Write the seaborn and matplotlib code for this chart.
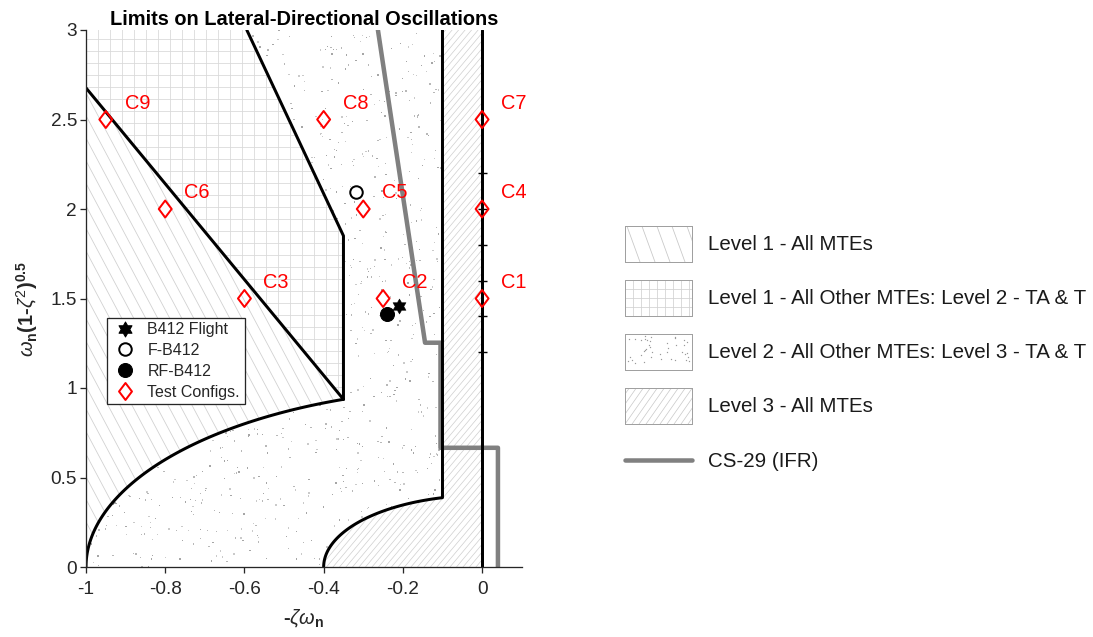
import numpy as np
import matplotlib
matplotlib.use("Agg")
import matplotlib.pyplot as plt
import seaborn as sns
from matplotlib.patches import Polygon, Rectangle
from matplotlib.collections import LineCollection
from matplotlib.lines import Line2D
from matplotlib.path import Path
from matplotlib.legend_handler import HandlerBase

# ---------------------------------------------------------------- data
config_names = ["C1", "C2", "C3", "C4", "C5", "C6", "C7", "C8", "C9"]
config_sigma = [0.0, -0.25, -0.6, 0.0, -0.3, -0.8, 0.0, -0.4, -0.95]
config_omega = [1.5, 1.5, 1.5, 2.0, 2.0, 2.0, 2.5, 2.5, 2.5]

flight_sigma, flight_omega = [-0.211], [1.457]
f_model_sigma, f_model_omega = [-0.318], [2.095]
rf_model_sigma, rf_model_omega = [-0.239], [1.416]

# handling-qualities boundaries
zeta_level1 = 0.35          # constant damping-ratio limit
wn_level1 = 1.0             # natural-frequency limit (Level 1)
wn_level3 = 0.4             # natural-frequency limit (Level 3)
sigma_level3 = -0.1         # real-part limit
upper_edge_sigma = [-0.35, -0.594]
upper_edge_omega = [1.85, 3.0]

cs29_sigma = [-0.263, -0.144, -0.105, -0.105, 0.040, 0.040]
cs29_omega = [3.0, 1.253, 1.253, 0.666, 0.666, 0.0]

axis_marks_omega = [1.2, 1.4, 1.6, 1.8, 2.0, 2.2]

x_ticks = [-1, -0.8, -0.6, -0.4, -0.2, 0]
x_tick_labels = ["-1", "-0.8", "-0.6", "-0.4", "-0.2", "0"]
y_ticks = [0, 0.5, 1, 1.5, 2, 2.5, 3]
y_tick_labels = ["0", "0.5", "1", "1.5", "2", "2.5", "3"]

region_labels = ["Level 1 - All MTEs",
                 "Level 1 - All Other MTEs: Level 2 - TA & T",
                 "Level 2 - All Other MTEs: Level 3 - TA & T",
                 "Level 3 - All MTEs"]

# ---------------------------------------------------------------- style
sns.set_theme(style="ticks")
plt.rcParams["font.family"] = ["Liberation Sans", "DejaVu Sans"]
plt.rcParams["axes.unicode_minus"] = False
plt.rcParams["mathtext.fontset"] = "custom"
plt.rcParams["mathtext.rm"] = "Liberation Sans"
plt.rcParams["mathtext.it"] = "Liberation Sans:italic"
plt.rcParams["mathtext.bf"] = "Liberation Sans:bold"

DPI = 72
FW, FH = 1093, 637
fig = plt.figure(figsize=(FW / DPI, FH / DPI), dpi=DPI)
ax_l, ax_b, ax_w, ax_h = 86, 70, 435.7, 537
ax = fig.add_axes([ax_l / FW, ax_b / FH, ax_w / FW, ax_h / FH])
XMIN, XMAX, YMIN, YMAX = -1.0, 0.1, 0.0, 3.0

L1_HATCH = [(-62, 12, "#d0d0d0", 0.8)]
GRID_HATCH = [(0, 12, "#d9d9d9", 0.8), (90, 12, "#d9d9d9", 0.8)]
L3_HATCH = [(50, 6.5, "#cfcfcf", 0.7)]
CS29_GREY = "#808080"


def line_family(width, height, angle_deg, step):
    """Parallel lines covering a width x height box, `step` apart along x."""
    a = np.deg2rad(angle_deg)
    d = np.array([np.cos(a), np.sin(a)])
    n = np.array([-np.sin(a), np.cos(a)])
    perp = step * abs(np.sin(a)) if abs(np.sin(a)) > 1e-6 else step
    corners = np.array([[0, 0], [width, 0], [0, height], [width, height]])
    proj = corners @ n
    offsets = np.arange(np.floor(proj.min() / perp) * perp, proj.max() + perp, perp)
    L = width + height
    return [[tuple(c * n - L * d), tuple(c * n + L * d)] for c in offsets]


def hatch_region(patch, specs):
    for angle, step, color, lw in specs:
        segs = line_family(ax_w, ax_h, angle, step)
        segs = [[(p[0] / ax_w, p[1] / ax_h) for p in s] for s in segs]
        lc = LineCollection(segs, colors=color, linewidths=lw,
                            transform=ax.transAxes, zorder=1.1)
        ax.add_collection(lc)
        lc.set_clip_path(patch)


# ---------------------------------------------------------------- geometry
theta1 = np.linspace(np.pi, np.arccos(-zeta_level1), 80)
arc1 = np.column_stack([wn_level1 * np.cos(theta1), wn_level1 * np.sin(theta1)])
corner = arc1[-1]
zeta_top = np.sqrt(1 - zeta_level1 ** 2) / zeta_level1   # omega_d at sigma = -1

theta3 = np.linspace(np.pi, np.arccos(sigma_level3 / wn_level3), 60)
arc3 = np.column_stack([wn_level3 * np.cos(theta3), wn_level3 * np.sin(theta3)])

upper = list(zip(upper_edge_sigma, upper_edge_omega))

poly_l1 = np.vstack([arc1, [[-1, zeta_top]]])
poly_grid = np.array([[-1, zeta_top], corner, upper[0], upper[1], [-1, YMAX]])
poly_l2 = np.vstack([arc1, [upper[0], upper[1], [sigma_level3, YMAX]],
                     arc3[::-1]])
poly_l3 = np.vstack([arc3, [[sigma_level3, YMAX], [0, YMAX], [0, 0]]])

patches = {}
for key, poly in [("l1", poly_l1), ("grid", poly_grid), ("l2", poly_l2), ("l3", poly_l3)]:
    p = Polygon(poly, closed=True, facecolor="white", edgecolor="none", zorder=1)
    ax.add_patch(p)
    patches[key] = p

hatch_region(patches["l1"], L1_HATCH)
hatch_region(patches["grid"], GRID_HATCH)
hatch_region(patches["l3"], L3_HATCH)

# speckle texture for the Level 2 region
speckle = np.random.default_rng(11)
n_dots = 1600
dot_x = speckle.uniform(XMIN, XMAX, n_dots)
dot_y = speckle.uniform(YMIN, YMAX, n_dots)
dot_c = speckle.choice(["#a6a6a6", "#b8b8b8", "#cacaca"], n_dots)
dots = ax.scatter(dot_x, dot_y, s=1.8, marker="s", c=dot_c, linewidths=0, zorder=1.2)
dots.set_clip_path(patches["l2"])

# ---------------------------------------------------------------- lines
def draw_line(xs, ys, color="black", lw=3, z=3):
    sns.lineplot(x=list(xs), y=list(ys), sort=False, estimator=None,
                 color=color, linewidth=lw, ax=ax, zorder=z)

draw_line(cs29_sigma, cs29_omega, color=CS29_GREY, lw=4.5, z=2)

draw_line(arc1[:, 0], arc1[:, 1])
draw_line([-1, corner[0]], [zeta_top, corner[1]])
draw_line([corner[0], upper[0][0], upper[1][0]], [corner[1], upper[0][1], upper[1][1]])
draw_line(list(arc3[:, 0]) + [sigma_level3], list(arc3[:, 1]) + [YMAX])
draw_line([0, 0], [YMIN, YMAX])
ax.plot([0] * len(axis_marks_omega), axis_marks_omega, ls="none", marker="_",
        ms=9, mew=1.4, color="black", zorder=3)

# ---------------------------------------------------------------- markers
diamond = Path([(0, 1), (0.76, 0), (0, -1), (-0.76, 0), (0, 1)],
               [Path.MOVETO, Path.LINETO, Path.LINETO, Path.LINETO, Path.CLOSEPOLY])
hexagram = Path.unit_regular_star(6, 0.577)

sns.scatterplot(x=config_sigma, y=config_omega, marker=diamond, s=17 ** 2,
                facecolor="none", edgecolor="red", linewidth=2, ax=ax,
                zorder=4, legend=False)
sns.scatterplot(x=f_model_sigma, y=f_model_omega, marker="o", s=12.5 ** 2,
                facecolor="white", edgecolor="black", linewidth=2, ax=ax,
                zorder=4, legend=False)
sns.scatterplot(x=rf_model_sigma, y=rf_model_omega, marker="o", s=14 ** 2,
                color="black", edgecolor="black", linewidth=1, ax=ax,
                zorder=4, legend=False)
sns.scatterplot(x=flight_sigma, y=flight_omega, marker=hexagram, s=15 ** 2,
                color="black", edgecolor="black", linewidth=0.5, ax=ax,
                zorder=4.5, legend=False)

for name, sx, wy in zip(config_names, config_sigma, config_omega):
    ax.annotate(name, (sx, wy), xytext=(19, 16), textcoords="offset points",
                color="red", fontsize=20, ha="left", va="center", zorder=5)

# ---------------------------------------------------------------- axes
ax.set_xlim(XMIN, XMAX)
ax.set_ylim(YMIN, YMAX)
ax.set_xticks(x_ticks, x_tick_labels)
ax.set_yticks(y_ticks, y_tick_labels)
for side in ("top", "right"):
    ax.spines[side].set_visible(False)
for side in ("left", "bottom"):
    ax.spines[side].set_color("#262626")
    ax.spines[side].set_linewidth(1.3)
    ax.spines[side].set_zorder(6)
ax.tick_params(direction="out", length=6, width=1.3, color="#262626",
               labelsize=19, labelcolor="#262626")
ax.tick_params(axis="x", pad=8)
ax.tick_params(axis="y", pad=3)
ax.set_title("Limits on Lateral-Directional Oscillations", fontsize=20,
             fontweight="bold", color="black", pad=5)
ax.set_xlabel(r"-$\zeta\omega_{\mathbf{n}}$", fontsize=20, fontweight="bold",
              color="#262626", labelpad=10)
ax.set_ylabel(r"$\omega_{\mathbf{n}}$(1-$\zeta^{2}$)$^{\mathbf{0.5}}$",
              fontsize=20, fontweight="bold", color="#262626")
ax.yaxis.set_label_coords(-0.105, 0.48)

# ---------------------------------------------------------------- legends
marker_handles = [
    Line2D([], [], ls="none", marker=hexagram, ms=15, color="black"),
    Line2D([], [], ls="none", marker="o", ms=12.5, mfc="white", mec="black", mew=2),
    Line2D([], [], ls="none", marker="o", ms=14, color="black"),
    Line2D([], [], ls="none", marker=diamond, ms=17, mfc="none", mec="red", mew=2),
]
marker_labels = ["B412 Flight", "F-B412", "RF-B412", "Test Configs."]
leg1 = ax.legend(marker_handles, marker_labels, loc="upper left",
                 bbox_to_anchor=(106.5 / FW, 1 - 317.5 / FH), bbox_transform=fig.transFigure,
                 fontsize=16, frameon=True, fancybox=False, framealpha=1,
                 edgecolor="#262626", borderpad=0.3, handlelength=1.75,
                 handletextpad=0.5, labelspacing=0.36, borderaxespad=0)
leg1.get_frame().set_linewidth(1.3)
leg1.set_zorder(10)


class SwatchHandler(HandlerBase):
    """Legend key: a framed box filled with line hatching or speckle."""

    def __init__(self, specs=(), speckled=False):
        super().__init__()
        self.specs = specs
        self.speckled = speckled

    def create_artists(self, legend, orig_handle, xdescent, ydescent,
                       width, height, fontsize, trans):
        x0, y0 = -xdescent, -ydescent
        rect = Rectangle((x0, y0), width, height, facecolor="white",
                         edgecolor="#a0a0a0", linewidth=1.0, transform=trans)
        arts = [rect]
        for angle, step, color, lw in self.specs:
            segs = line_family(width, height, angle, step)
            segs = [[(x0 + p[0], y0 + p[1]) for p in s] for s in segs]
            lc = LineCollection(segs, colors=color, linewidths=lw, transform=trans)
            lc.set_clip_path(rect)
            arts.append(lc)
        if self.speckled:
            sx = x0 + 2 + speckle.uniform(0, width - 4, 40)
            sy = y0 + 2 + speckle.uniform(0, height - 4, 40)
            arts.append(Line2D(sx, sy, ls="none", marker="s", ms=1.2, mew=0,
                               color="#9a9a9a", transform=trans))
        arts.append(Rectangle((x0, y0), width, height, facecolor="none",
                              edgecolor="#a0a0a0", linewidth=1.0, transform=trans))
        return arts


class CentredLineHandler(HandlerBase):
    """Legend key: a thick line through the middle of the key box."""

    def create_artists(self, legend, orig_handle, xdescent, ydescent,
                       width, height, fontsize, trans):
        x0, y0 = -xdescent, -ydescent
        yc = y0 + height / 2
        return [Line2D([x0, x0 + width], [yc, yc], color=orig_handle.get_color(),
                       linewidth=orig_handle.get_linewidth(), transform=trans)]


swatches = [Rectangle((0, 0), 1, 1) for _ in range(4)]
cs29_handle = Line2D([], [], color=CS29_GREY, linewidth=4.5)
handler_map = {
    swatches[0]: SwatchHandler([(-70, 15, "#c8c8c8", 0.8)]),
    swatches[1]: SwatchHandler([(0, 9, "#d2d2d2", 0.8), (90, 8, "#d2d2d2", 0.8)]),
    swatches[2]: SwatchHandler(speckled=True),
    swatches[3]: SwatchHandler([(55, 7, "#c8c8c8", 0.7)]),
    cs29_handle: CentredLineHandler(),
}
LEG_FS = 20.5
SWATCH_H = 36
hh = (SWATCH_H - 0.245 * LEG_FS) / (0.65 * LEG_FS)
fig.legend(swatches + [cs29_handle], region_labels + ["CS-29 (IFR)"],
           handler_map=handler_map, loc="upper left",
           bbox_to_anchor=(625 / FW, 1 - 226 / FH), bbox_transform=fig.transFigure,
           frameon=False, fontsize=LEG_FS, handlelength=67 / LEG_FS, handleheight=hh,
           labelspacing=0.88, handletextpad=16 / LEG_FS, borderpad=0, borderaxespad=0,
           labelcolor="#1a1a1a")

fig.savefig("out.png", dpi=DPI)
